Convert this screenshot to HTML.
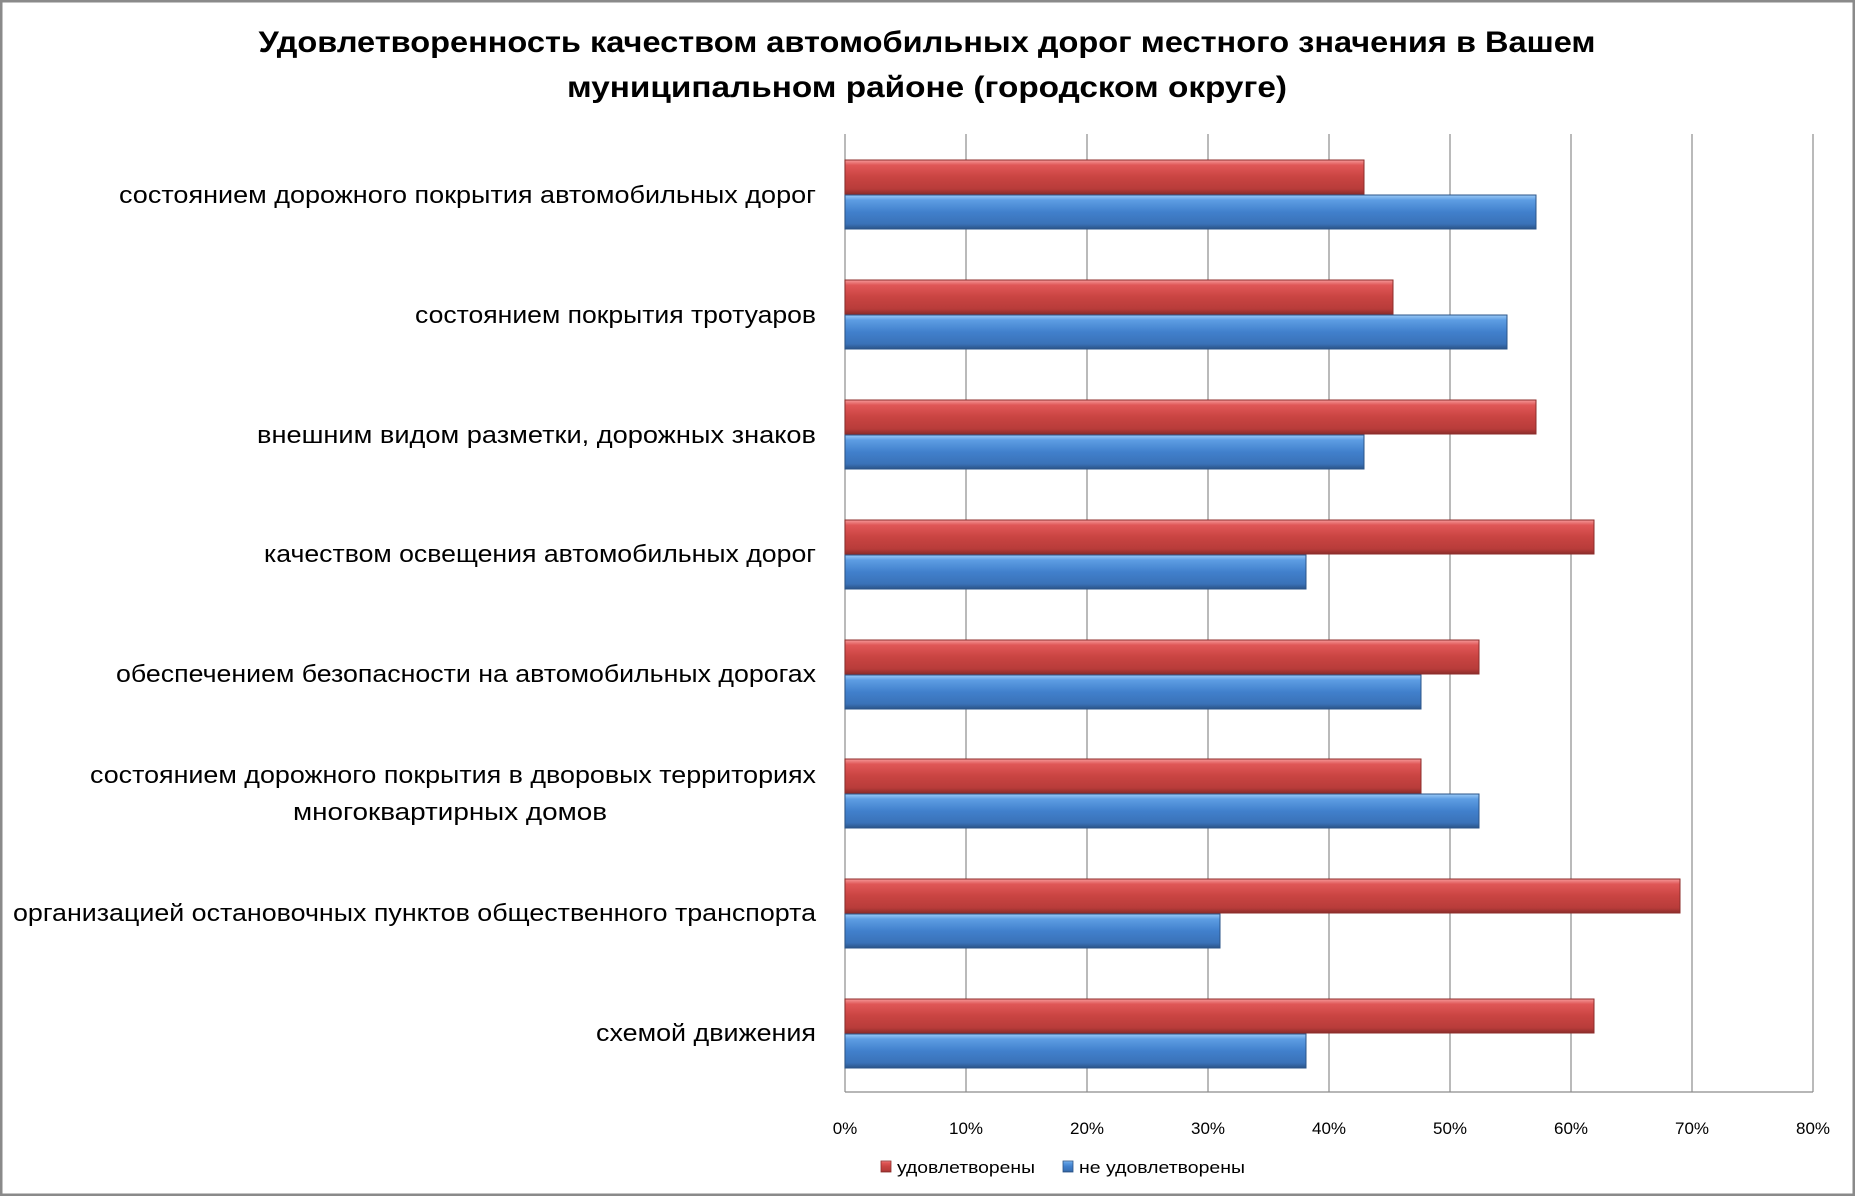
<!DOCTYPE html>
<html><head><meta charset="utf-8"><style>html,body{margin:0;padding:0;background:#fff}svg{display:block}</style></head>
<body>
<svg width="1855" height="1196" xmlns="http://www.w3.org/2000/svg" font-family="'Liberation Sans Narrow','Liberation Sans',sans-serif">
<defs>
<linearGradient id="r" x1="0" y1="0" x2="0" y2="1">
<stop offset="0" stop-color="#f59a9a"/><stop offset="0.15" stop-color="#e05757"/><stop offset="0.5" stop-color="#c94442"/><stop offset="0.85" stop-color="#b83c3a"/><stop offset="1" stop-color="#8c2d2b"/></linearGradient>
<linearGradient id="b" x1="0" y1="0" x2="0" y2="1">
<stop offset="0" stop-color="#9ccbf7"/><stop offset="0.15" stop-color="#5d9de3"/><stop offset="0.5" stop-color="#4180cc"/><stop offset="0.85" stop-color="#3a72b8"/><stop offset="1" stop-color="#2b5488"/></linearGradient>
</defs>
<rect x="1" y="1" width="1853" height="1194" fill="#fff" stroke="#8a8a8a" stroke-width="3"/>
<g font-family="'Liberation Sans',sans-serif" font-weight="bold" font-size="30" fill="#000" text-anchor="middle">
<text x="927" y="52" textLength="1337" lengthAdjust="spacingAndGlyphs">Удовлетворенность качеством автомобильных дорог местного значения в Вашем</text>
<text x="927" y="97" textLength="720" lengthAdjust="spacingAndGlyphs">муниципальном районе (городском округе)</text>
</g>
<g stroke="#8c8c8c" stroke-width="1.2">
<line x1="966" y1="134" x2="966" y2="1092"/><line x1="1087" y1="134" x2="1087" y2="1092"/><line x1="1208" y1="134" x2="1208" y2="1092"/><line x1="1329" y1="134" x2="1329" y2="1092"/><line x1="1450" y1="134" x2="1450" y2="1092"/><line x1="1571" y1="134" x2="1571" y2="1092"/><line x1="1692" y1="134" x2="1692" y2="1092"/><line x1="1813" y1="134" x2="1813" y2="1092"/>
<line x1="845" y1="134" x2="845" y2="1092"/><line x1="845" y1="1092" x2="1813" y2="1092"/>
</g>
<g stroke-width="1">
<rect x="845" y="160" width="519" height="34" fill="url(#r)" stroke="#8c2d2b"/><rect x="845" y="195" width="691" height="34" fill="url(#b)" stroke="#2b5488"/>
<rect x="845" y="280" width="548" height="34" fill="url(#r)" stroke="#8c2d2b"/><rect x="845" y="315" width="662" height="34" fill="url(#b)" stroke="#2b5488"/>
<rect x="845" y="400" width="691" height="34" fill="url(#r)" stroke="#8c2d2b"/><rect x="845" y="435" width="519" height="34" fill="url(#b)" stroke="#2b5488"/>
<rect x="845" y="520" width="749" height="34" fill="url(#r)" stroke="#8c2d2b"/><rect x="845" y="555" width="461" height="34" fill="url(#b)" stroke="#2b5488"/>
<rect x="845" y="640" width="634" height="34" fill="url(#r)" stroke="#8c2d2b"/><rect x="845" y="675" width="576" height="34" fill="url(#b)" stroke="#2b5488"/>
<rect x="845" y="759" width="576" height="34" fill="url(#r)" stroke="#8c2d2b"/><rect x="845" y="794" width="634" height="34" fill="url(#b)" stroke="#2b5488"/>
<rect x="845" y="879" width="835" height="34" fill="url(#r)" stroke="#8c2d2b"/><rect x="845" y="914" width="375" height="34" fill="url(#b)" stroke="#2b5488"/>
<rect x="845" y="999" width="749" height="34" fill="url(#r)" stroke="#8c2d2b"/><rect x="845" y="1034" width="461" height="34" fill="url(#b)" stroke="#2b5488"/>
</g>
<g font-size="24" fill="#000" text-anchor="end">
<text x="816" y="203" textLength="697" lengthAdjust="spacingAndGlyphs">состоянием дорожного покрытия автомобильных дорог</text>
<text x="816" y="323" textLength="401" lengthAdjust="spacingAndGlyphs">состоянием покрытия тротуаров</text>
<text x="816" y="443" textLength="559" lengthAdjust="spacingAndGlyphs">внешним видом разметки, дорожных знаков</text>
<text x="816" y="562" textLength="552" lengthAdjust="spacingAndGlyphs">качеством освещения автомобильных дорог</text>
<text x="816" y="682" textLength="700" lengthAdjust="spacingAndGlyphs">обеспечением безопасности на автомобильных дорогах</text>
<text x="816" y="783" textLength="726" lengthAdjust="spacingAndGlyphs">состоянием дорожного покрытия в дворовых территориях</text>
<text x="816" y="921" textLength="803" lengthAdjust="spacingAndGlyphs">организацией остановочных пунктов общественного транспорта</text>
<text x="816" y="1041" textLength="220" lengthAdjust="spacingAndGlyphs">схемой движения</text>
</g>
<text x="450" y="820" font-size="24" text-anchor="middle" textLength="314" lengthAdjust="spacingAndGlyphs">многоквартирных домов</text>
<g font-size="17" fill="#000" text-anchor="middle">
<text x="845" y="1134">0%</text><text x="966" y="1134">10%</text><text x="1087" y="1134">20%</text><text x="1208" y="1134">30%</text><text x="1329" y="1134">40%</text><text x="1450" y="1134">50%</text><text x="1571" y="1134">60%</text><text x="1692" y="1134">70%</text><text x="1813" y="1134">80%</text>
</g>
<rect x="881" y="1161" width="10" height="11" fill="url(#r)" stroke="#8c2d2b" stroke-width="0.8"/>
<text x="897" y="1173" font-size="17" textLength="138" lengthAdjust="spacingAndGlyphs">удовлетворены</text>
<rect x="1063" y="1161" width="10" height="11" fill="url(#b)" stroke="#2b5488" stroke-width="0.8"/>
<text x="1079" y="1173" font-size="17" textLength="166" lengthAdjust="spacingAndGlyphs">не удовлетворены</text>
</svg>
</body></html>
